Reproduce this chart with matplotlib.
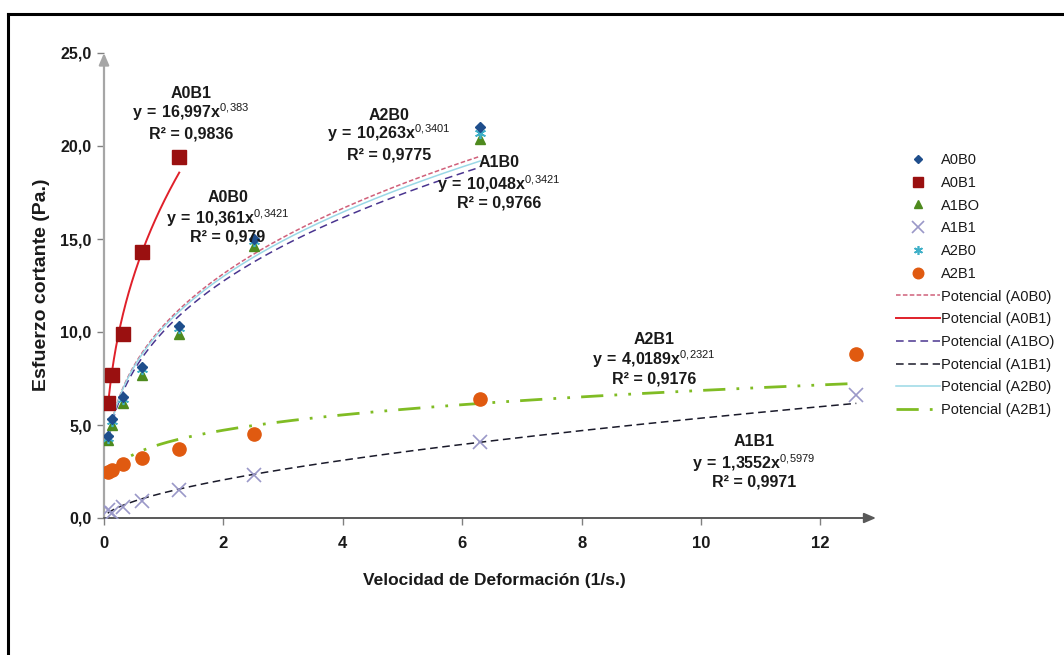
import matplotlib
matplotlib.use("Agg")
import matplotlib.pyplot as plt
import numpy as np
from matplotlib import font_manager
from matplotlib.lines import Line2D

names = {f.name for f in font_manager.fontManager.ttflist}
FONT = "Liberation Sans" if "Liberation Sans" in names else "DejaVu Sans"
plt.rcParams["font.family"] = [FONT, "DejaVu Sans"]
plt.rcParams["mathtext.fontset"] = "custom"
plt.rcParams["mathtext.rm"] = FONT
plt.rcParams["mathtext.bf"] = FONT + ":bold"

# ---------------- data ----------------
shear_rate = [0.063, 0.126, 0.315, 0.63, 1.26, 2.52, 6.3, 12.6]

a0b0 = [4.4, 5.3, 6.5, 8.1, 10.3, 15.0, 21.0]
a0b1 = [6.2, 7.7, 9.9, 14.3, 19.4]
a1b0 = [4.2, 5.0, 6.2, 7.7, 9.9, 14.6, 20.4]
a1b1 = [0.45, 0.25, 0.6, 0.9, 1.5, 2.3, 4.1, 6.6]
a2b0 = [4.3, 5.2, 6.4, 8.0, 10.2, 14.9, 20.7]
a2b1 = [2.5, 2.6, 2.9, 3.2, 3.7, 4.5, 6.4, 8.8]

series_names = ["A0B0", "A0B1", "A1BO", "A1B1", "A2B0", "A2B1"]
# power-law fit coefficients shown on the chart: y = a * x^b
fit_a = [10.361, 16.997, 10.048, 1.3552, 10.263, 4.0189]
fit_b = [0.3421, 0.383, 0.3421, 0.5979, 0.3401, 0.2321]
fit_r2 = ["0,979", "0,9836", "0,9766", "0,9971", "0,9775", "0,9176"]
fit_a_txt = ["10,361", "16,997", "10,048", "1,3552", "10,263", "4,0189"]
fit_b_txt = ["0,3421", "0,383", "0,3421", "0,5979", "0,3401", "0,2321"]
label_titles = ["A0B0", "A0B1", "A1B0", "A1B1", "A2B0", "A2B1"]

y_ticks = [0, 5, 10, 15, 20, 25]
x_ticks = [0, 2, 4, 6, 8, 10, 12]

# ---------------- figure ----------------
W, H = 1064, 655
fig = plt.figure(figsize=(W / 100, H / 100), dpi=100)
fig.patch.set_facecolor("white")

def fx(px):
    return px / W

def fy(py):
    return 1 - py / H

# outer frame (only top and left visible)
fig.add_artist(Line2D([fx(8), 1.0], [fy(14), fy(14)], color="black", lw=2.2))
fig.add_artist(Line2D([fx(8), fx(8)], [fy(14), 0.0], color="black", lw=2.2))

ax_l, ax_r, ax_t, ax_b = 104, 876, 53, 518
ax = fig.add_axes([fx(ax_l), fy(ax_b), fx(ax_r - ax_l), (ax_b - ax_t) / H])
ax.set_xlim(0, 12.93)
ax.set_ylim(0, 25)
for s in ax.spines.values():
    s.set_visible(False)
ax.patch.set_alpha(0)

# axes with arrows
ax.annotate("", xy=(0, 1), xytext=(0, 0), xycoords="axes fraction",
            arrowprops=dict(arrowstyle="-|>,head_length=0.7,head_width=0.3",
                            color="#a6a6a6", lw=1.6, shrinkA=0, shrinkB=0))
ax.annotate("", xy=(1, 0), xytext=(0, 0), xycoords="axes fraction",
            arrowprops=dict(arrowstyle="-|>,head_length=0.7,head_width=0.3",
                            color="#595959", lw=1.4, shrinkA=0, shrinkB=0))

ax.set_yticks(y_ticks)
ax.set_yticklabels([f"{v:.1f}".replace(".", ",") for v in y_ticks])
ax.set_xticks(x_ticks)
ax.set_xticklabels([str(v) for v in x_ticks])
ax.tick_params(axis="y", direction="out", length=5, width=1, color="#808080",
               pad=4, labelsize=11.5)
ax.tick_params(axis="x", direction="out", length=5, width=1, color="#808080",
               pad=8, labelsize=12)
for lab in ax.get_xticklabels() + ax.get_yticklabels():
    lab.set_fontweight("bold")
    lab.set_color("#1a1a1a")

# ---------------- trend lines ----------------
data = [a0b0, a0b1, a1b0, a1b1, a2b0, a2b1]
line_styles = [
    dict(color="#d0607a", lw=1.1, dashes=(3, 1.5)),
    dict(color="#e0202a", lw=1.4, linestyle="-"),
    dict(color="#4a3590", lw=1.1, dashes=(5, 3)),
    dict(color="#1a1a2a", lw=1.1, dashes=(5, 3)),
    dict(color="#9ad8e6", lw=1.1, linestyle="-"),
    dict(color="#80bc24", lw=2.0, dashes=(8, 4, 1, 4, 1, 4)),
]
trend_handles = []
for vals, a, b, st, nm in zip(data, fit_a, fit_b, line_styles, series_names):
    xs = np.array(shear_rate[:len(vals)])
    xx = np.linspace(xs.min(), xs.max(), 300)
    ln, = ax.plot(xx, a * xx ** b, zorder=2, **st)
    trend_handles.append((ln, f"Potencial ({nm})"))

# ---------------- markers ----------------
marker_styles = [
    dict(marker="D", color="#1f4e8c", ms=5.5, ls="none"),
    dict(marker="s", color="#9a1010", ms=9.5, ls="none"),
    dict(marker="^", color="#4e8a1e", ms=7, ls="none"),
    dict(marker="x", color="#9a98c8", ms=10, mew=1.2, ls="none"),
    dict(marker=(6, 2, 0), color="#3fb0c8", ms=8, mew=1.2, ls="none"),
    dict(marker="o", color="#e05a10", ms=9.5, ls="none"),
]
plot_order = [3, 5, 2, 4, 0, 1]
marker_handles = [None] * 6
for i in plot_order:
    vals = data[i]
    h, = ax.plot(shear_rate[:len(vals)], vals, zorder=3, **marker_styles[i])
    marker_handles[i] = h

# ---------------- annotations ----------------
ann_pos = {
    "A0B1": (191, 94, 112, 134),
    "A0B0": (228, 197, 218, 237),
    "A2B0": (389, 115, 133, 155),
    "A1B0": (499, 163, 184, 203),
    "A2B1": (654, 339, 359, 379),
    "A1B1": (754, 442, 463, 482),
}
for title, a_t, b_t, r2 in zip(label_titles, fit_a_txt, fit_b_txt, fit_r2):
    cx, y1, y2, y3 = ann_pos[title]
    kw = dict(ha="center", va="center", fontsize=11.5, fontweight="bold",
              color="#1a1a1a")
    fig.text(fx(cx), fy(y1), title, **kw)
    a_m = a_t.replace(",", "{,}")
    b_m = b_t.replace(",", "{,}")
    fig.text(fx(cx), fy(y2),
             r"$\mathbf{y\,=\," + a_m + r"x}^{" + b_m + "}$", **kw)
    fig.text(fx(cx), fy(y3), f"R² = {r2}", **kw)

# axis titles
fig.text(fx(42), fy(285), "Esfuerzo cortante (Pa.)", rotation=90, ha="center",
         va="center", fontsize=14, fontweight="bold", color="#1a1a1a")
fig.text(fx(494), fy(581), "Velocidad de Deformación (1/s.)", ha="center",
         va="center", fontsize=12.5, fontweight="bold", color="#1a1a1a")

# ---------------- legend ----------------
labels = series_names + [l for _, l in trend_handles]
leg_handles = []
for h in marker_handles:
    leg_handles.append(Line2D([], [], marker=h.get_marker(), color=h.get_color(),
                              ls="none", ms=h.get_markersize() * 0.8,
                              mew=h.get_markeredgewidth()))
leg_handles += [h for h, _ in trend_handles]
leg = fig.legend(leg_handles, labels, loc="upper left",
                 bbox_to_anchor=(fx(896), fy(153)), frameon=False,
                 fontsize=10.5, handlelength=3.0, handletextpad=0.1,
                 labelspacing=0.6, borderpad=0, borderaxespad=0)
for t in leg.get_texts():
    t.set_color("#1a1a1a")

fig.savefig("out.png", dpi=100, facecolor="white")
